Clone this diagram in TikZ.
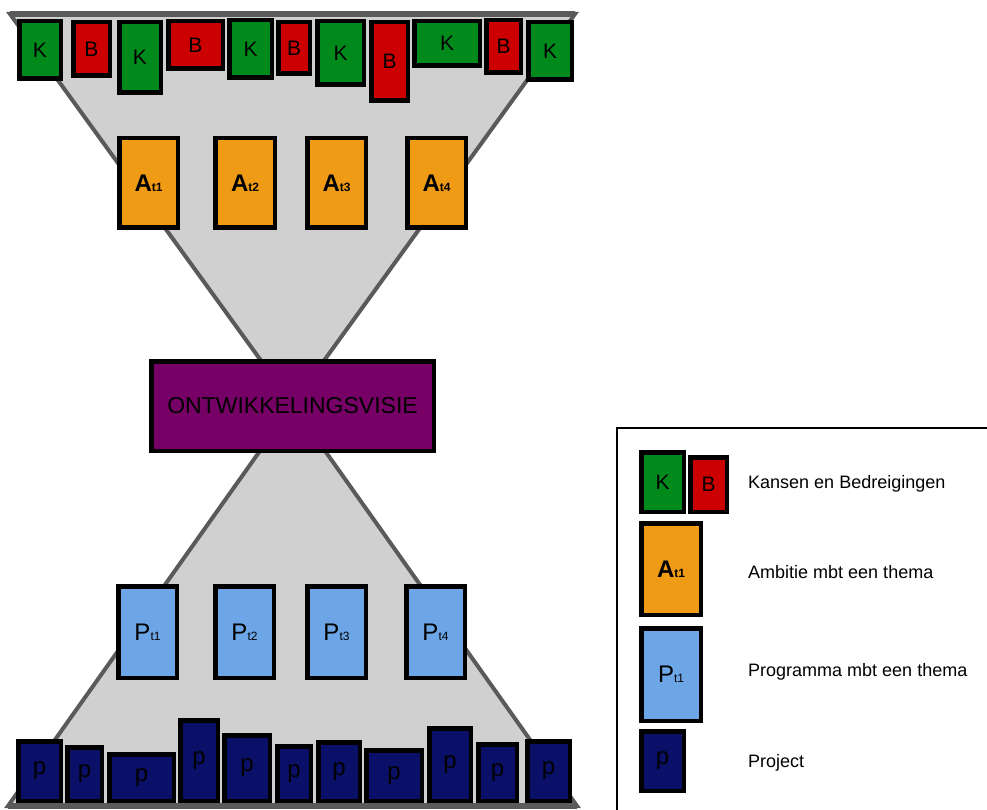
\documentclass[tikz,border=0pt]{standalone}
\usepackage{fontspec}
\setmainfont{Liberation Sans}
\definecolor{kgreen}{RGB}{0,138,28}
\definecolor{bred}{RGB}{204,0,0}
\definecolor{aorange}{RGB}{240,155,22}
\definecolor{pblue}{RGB}{108,166,230}
\definecolor{pnavy}{RGB}{10,16,104}
\definecolor{vpurple}{RGB}{118,0,102}
\definecolor{funnelfill}{RGB}{208,208,208}
\definecolor{funnelline}{RGB}{90,90,90}
\tikzset{
  box/.style={draw=black, line width=4.5pt, inner sep=0pt, line join=miter},
  kbox/.style={box, fill=kgreen, font=\fontsize{21}{21}\selectfont},
  bbox/.style={box, fill=bred, font=\fontsize{21}{21}\selectfont},
  abox/.style={box, fill=aorange},
  pbox/.style={box, fill=pblue},
  projbox/.style={box, fill=pnavy, font=\fontsize{24}{24}\selectfont},
  visiebox/.style={box, fill=vpurple, font=\fontsize{23}{23}\selectfont},
  funnel/.style={fill=funnelfill, draw=funnelline, line width=4pt, line join=miter},
  legtext/.style={anchor=west, inner sep=0pt, font=\fontsize{18}{18}\selectfont},
}
% name, x1, y1, x2, y2, style, text
\newcommand\bx[7]{\node[#6, minimum width={#4-#2-4.5}, minimum height={#5-#3-4.5}] (#1) at ({(#2+#4)/2},{(#3+#5)/2}) {#7};}
\newcommand\albl[1]{{\fontsize{24}{24}\selectfont\bfseries A}{\fontsize{12}{12}\selectfont\bfseries #1}}
\newcommand\plbl[1]{{\fontsize{24}{24}\selectfont P}{\fontsize{12}{12}\selectfont #1}}
\begin{document}
\begin{tikzpicture}[x=1pt,y=-1pt]
\useasboundingbox[fill=white] (0,0) rectangle (987,810);
% funnels
\coordinate (tl) at (10,14);
\coordinate (tr) at (575,14);
\coordinate (ml) at (262,362);
\coordinate (mr) at (323,362);
\coordinate (nl) at (262,448);
\coordinate (nr) at (323,448);
\coordinate (bl) at (8,806);
\coordinate (br) at (577,806);
\draw[funnel] (tl) -- (tr) -- (mr) -- (ml) -- cycle;
\draw[funnel] (nl) -- (nr) -- (br) -- (bl) -- cycle;
\draw[funnelline, line width=6pt] (tl) -- (tr);
\draw[funnelline, line width=6pt] (bl) -- (br);
% top K/B boxes
\bx{k1}{17}{19}{63}{81}{kbox}{K}
\bx{b1}{71}{20}{112}{78}{bbox}{B}
\bx{k2}{117}{20}{163}{95}{kbox}{K}
\bx{b2}{166}{19}{225}{71}{bbox}{B}
\bx{k3}{227}{18}{274}{80}{kbox}{K}
\bx{b3}{276}{20}{312}{76}{bbox}{B}
\bx{k4}{315}{19}{366}{87}{kbox}{K}
\bx{b4}{369}{20}{410}{103}{bbox}{B}
\bx{k5}{412}{19}{482}{68}{kbox}{K}
\bx{b5}{484}{18}{523}{75}{bbox}{B}
\bx{k6}{526}{20}{574}{82}{kbox}{K}
% ambitions
\bx{a1}{117}{136}{180}{230}{abox}{\albl{t1}}
\bx{a2}{213}{136}{277}{230}{abox}{\albl{t2}}
\bx{a3}{305}{136}{368}{230}{abox}{\albl{t3}}
\bx{a4}{405}{136}{468}{230}{abox}{\albl{t4}}
% vision
\bx{visie}{149}{359}{436}{453}{visiebox}{ONTWIKKELINGSVISIE}
% programmes
\bx{p1}{116}{584}{179}{680}{pbox}{\plbl{t1}}
\bx{p2}{213}{584}{276}{680}{pbox}{\plbl{t2}}
\bx{p3}{305}{584}{368}{680}{pbox}{\plbl{t3}}
\bx{p4}{404}{584}{467}{680}{pbox}{\plbl{t4}}
% projects
\bx{q1}{16}{739}{63}{803}{projbox}{p}
\bx{q2}{65}{745}{104}{803}{projbox}{p}
\bx{q3}{107}{752}{176}{803}{projbox}{p}
\bx{q4}{178}{718}{220}{803}{projbox}{p}
\bx{q5}{222}{733}{272}{803}{projbox}{p}
\bx{q6}{275}{744}{313}{803}{projbox}{p}
\bx{q7}{316}{740}{362}{803}{projbox}{p}
\bx{q8}{364}{748}{424}{803}{projbox}{p}
\bx{q9}{427}{726}{473}{803}{projbox}{p}
\bx{q10}{476}{742}{519}{803}{projbox}{p}
\bx{q11}{525}{739}{572}{803}{projbox}{p}
% legend
\coordinate (lgbot) at (617,812);
\coordinate (lgtl) at (617,428);
\coordinate (lgtr) at (989,428);
\draw[black, line width=2pt] (lgbot) -- (lgtl) -- (lgtr);
\bx{lk}{639}{450}{686}{514}{kbox}{K}
\bx{lb}{688}{455}{729}{514}{bbox}{B}
\bx{la}{639}{521}{703}{617}{abox}{\albl{t1}}
\bx{lp}{639}{626}{703}{723}{pbox}{\plbl{t1}}
\bx{lq}{639}{729}{686}{793}{projbox}{p}
\node[legtext] (tk) at (748,484) {Kansen en Bedreigingen};
\node[legtext] (ta) at (748,572) {Ambitie mbt een thema};
\node[legtext] (tp) at (748,672) {Programma mbt een thema};
\node[legtext] (tq) at (748,763) {Project};
\end{tikzpicture}
\end{document}
